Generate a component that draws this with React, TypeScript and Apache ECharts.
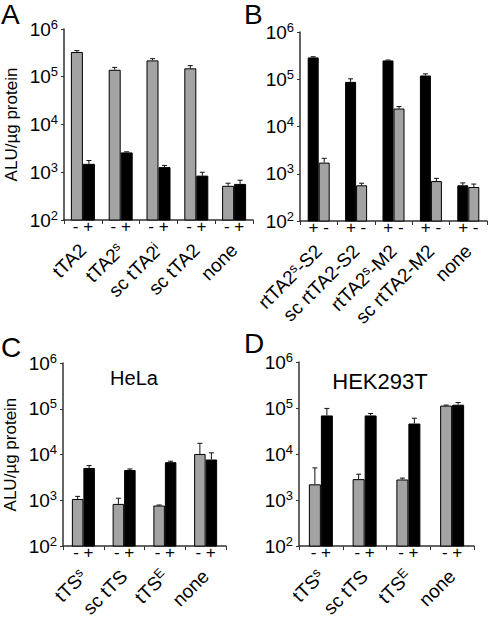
import React, { useEffect, useRef } from 'react';
import * as echarts from 'echarts';

// ---------- data ----------
const A_categories = ['tTA2', 'tTA2^s', 'sc tTA2^i', 'sc tTA2', 'none'];
const A_minus = [330000, 140000, 220000, 150000, 520];
const A_minusErr = [22000, 17000, 19000, 21000, 70];
const A_plus = [1500, 2600, 1280, 850, 570];
const A_plusErr = [260, 80, 110, 150, 110];

const B_categories = ['rtTA2^s-S2', 'sc rtTA2-S2', 'rtTA2^s-M2', 'sc rtTA2-M2', 'none'];
const B_plus = [290000, 88000, 250000, 120000, 570];
const B_plusErr = [10000, 14000, 5000, 10000, 70];
const B_minus = [1720, 570, 24000, 700, 525];
const B_minusErr = [400, 60, 2400, 100, 80];

const C_categories = ['tTS^s', 'sc tTS', 'tTS^E', 'none'];
const C_minus = [1070, 835, 770, 10300];
const C_minusErr = [150, 275, 20, 7300];
const C_plus = [5100, 4600, 6800, 7800];
const C_plusErr = [640, 240, 350, 3100];

const D_categories = ['tTS^s', 'sc tTS', 'tTS^E', 'none'];
const D_minus = [2200, 2850, 2800, 113000];
const D_minusErr = [2800, 800, 200, 3000];
const D_plus = [69000, 69000, 46000, 118000];
const D_plusErr = [29000, 7000, 14000, 14000];

const yMin = 100;
const yMax = 1000000;
const yAxisName = 'ALU/µg protein';
const signsMinusPlus = '- +';
const signsPlusMinus = '+ -';
const panelLetters = ['A', 'B', 'C', 'D'];
const cellLines = ['HeLa', 'HEK293T'];

// ---------- styling ----------
const FONT = 'Liberation Sans';
const GRAY = '#a3a3a3';
const BLACK = '#000000';
const AXIS = '#333333';
const ERR = '#111111';

type SeriesDef = { values: number[]; errs: number[]; color: string };
type Panel = {
  grid: { left: number; top: number; width: number; height: number };
  cats: string[];
  signs: string;
  series: SeriesDef[];
  barWidth: number;
  yName?: string;
};

const panels: Panel[] = [
  {
    grid: { left: 64, top: 29, width: 189, height: 191 },
    cats: A_categories,
    signs: signsMinusPlus,
    series: [
      { values: A_minus, errs: A_minusErr, color: GRAY },
      { values: A_plus, errs: A_plusErr, color: BLACK },
    ],
    barWidth: 12,
    yName: yAxisName,
  },
  {
    grid: { left: 300, top: 32, width: 187, height: 189 },
    cats: B_categories,
    signs: signsPlusMinus,
    series: [
      { values: B_plus, errs: B_plusErr, color: BLACK },
      { values: B_minus, errs: B_minusErr, color: GRAY },
    ],
    barWidth: 11,
  },
  {
    grid: { left: 63, top: 363, width: 163, height: 184 },
    cats: C_categories,
    signs: signsMinusPlus,
    series: [
      { values: C_minus, errs: C_minusErr, color: GRAY },
      { values: C_plus, errs: C_plusErr, color: BLACK },
    ],
    barWidth: 11.5,
    yName: yAxisName,
  },
  {
    grid: { left: 299, top: 362, width: 175, height: 187 },
    cats: D_categories,
    signs: signsMinusPlus,
    series: [
      { values: D_minus, errs: D_minusErr, color: GRAY },
      { values: D_plus, errs: D_plusErr, color: BLACK },
    ],
    barWidth: 12,
  },
];

const supRich = {
  sup: { fontSize: 13, fontFamily: FONT, color: '#000', verticalAlign: 'top', padding: [0, 0, 8, 0] },
};

function catLabel(s: string) {
  return s.replace(/\^(.)/g, '{sup|$1}');
}

function errorRenderer(offset: number, cap: number) {
  return (_params: any, api: any) => {
    const i = api.value(0);
    const v = api.value(1);
    const top = api.value(2);
    const p0 = api.coord([i, v]);
    const p1 = api.coord([i, top]);
    const x = p0[0] + offset;
    return {
      type: 'group',
      children: [
        { type: 'line', shape: { x1: x, y1: p0[1], x2: x, y2: p1[1] }, style: { stroke: ERR, lineWidth: 1 } },
        { type: 'line', shape: { x1: x - cap, y1: p1[1], x2: x + cap, y2: p1[1] }, style: { stroke: ERR, lineWidth: 1 } },
      ],
    };
  };
}

function buildOption() {
  const grids: any[] = [];
  const xAxes: any[] = [];
  const yAxes: any[] = [];
  const series: any[] = [];

  panels.forEach((p, gi) => {
    grids.push({ ...p.grid, containLabel: false });
    const xi = xAxes.length;
    xAxes.push({
      type: 'category',
      gridIndex: gi,
      data: p.cats,
      position: 'bottom',
      axisLine: { show: true, lineStyle: { color: AXIS, width: 1.5 } },
      axisTick: { show: true, length: 4, lineStyle: { color: AXIS, width: 1 } },
      axisLabel: {
        interval: 0,
        margin: -2,
        fontSize: 17,
        fontFamily: FONT,
        color: '#000',
        formatter: () => p.signs,
      },
    });
    xAxes.push({
      type: 'category',
      gridIndex: gi,
      data: p.cats,
      position: 'bottom',
      axisLine: { show: false },
      axisTick: { show: false },
      axisLabel: {
        interval: 0,
        rotate: 45,
        margin: 27,
        fontSize: 19,
        fontFamily: FONT,
        color: '#000',
        formatter: (v: string) => catLabel(v),
        rich: supRich,
      },
    });
    yAxes.push({
      type: 'log',
      logBase: 10,
      gridIndex: gi,
      min: yMin,
      max: yMax,
      splitNumber: 4,
      splitLine: { show: false },
      axisLine: { show: true, lineStyle: { color: AXIS, width: 1.5 } },
      axisTick: { show: true, length: 3, lineStyle: { color: AXIS } },
      name: p.yName || '',
      nameLocation: 'middle',
      nameGap: 44,
      nameTextStyle: { fontSize: 17, fontFamily: FONT, color: '#000' },
      axisLabel: {
        margin: 6,
        color: '#000',
        fontFamily: FONT,
        formatter: (v: number) => '{b|10}{e|' + Math.round(Math.log10(v)) + '}',
        rich: {
          b: { fontSize: 19, fontFamily: FONT, color: '#000' },
          e: { fontSize: 13, fontFamily: FONT, color: '#000', verticalAlign: 'top', padding: [0, 0, 10, 0] },
        },
      },
    });
    p.series.forEach((s, si) => {
      series.push({
        type: 'bar',
        xAxisIndex: xi,
        yAxisIndex: gi,
        data: s.values,
        barWidth: p.barWidth,
        barGap: '0%',
        itemStyle: { color: s.color, borderColor: '#000', borderWidth: 1 },
        z: 2,
      });
      const offset = (si === 0 ? -1 : 1) * (p.barWidth / 2);
      series.push({
        type: 'custom',
        xAxisIndex: xi,
        yAxisIndex: gi,
        data: s.values.map((v, i) => [i, v, v + s.errs[i]]),
        encode: { x: 0, y: 1 },
        renderItem: errorRenderer(offset, 2.5),
        z: 3,
      });
    });
  });

  const letterPos = [
    { x: 1, y: 14 },
    { x: 244, y: 14 },
    { x: 1, y: 347 },
    { x: 244, y: 343 },
  ];
  const graphic: any[] = panelLetters.map((t, i) => ({
    type: 'text',
    x: letterPos[i].x,
    y: letterPos[i].y,
    style: {
      text: t,
      fontSize: 28,
      fontFamily: FONT,
      lineHeight: 28,
      fill: '#000',
      align: 'left',
      verticalAlign: 'middle',
    },
  }));
  const cellPos = [
    { x: 134, y: 378, size: 20 },
    { x: 380, y: 381, size: 22 },
  ];
  cellLines.forEach((t, i) => {
    graphic.push({
      type: 'text',
      x: cellPos[i].x,
      y: cellPos[i].y,
      style: {
        text: t,
        fontSize: cellPos[i].size,
        fontFamily: FONT,
        fill: '#000',
        align: 'center',
        verticalAlign: 'middle',
      },
    });
  });

  return {
    animation: false,
    backgroundColor: '#ffffff',
    textStyle: { fontFamily: FONT },
    grid: grids,
    xAxis: xAxes,
    yAxis: yAxes,
    series,
    graphic,
  };
}

export default function App() {
  const ref = useRef<HTMLDivElement>(null);
  useEffect(() => {
    if (!ref.current) return;
    const chart = echarts.init(ref.current, undefined, { renderer: 'svg' });
    chart.setOption(buildOption() as any);
    return () => chart.dispose();
  }, []);
  return (
    <div
      ref={ref}
      style={{ position: 'fixed', left: 0, top: 0, width: 488, height: 620, background: '#fff' }}
    />
  );
}
